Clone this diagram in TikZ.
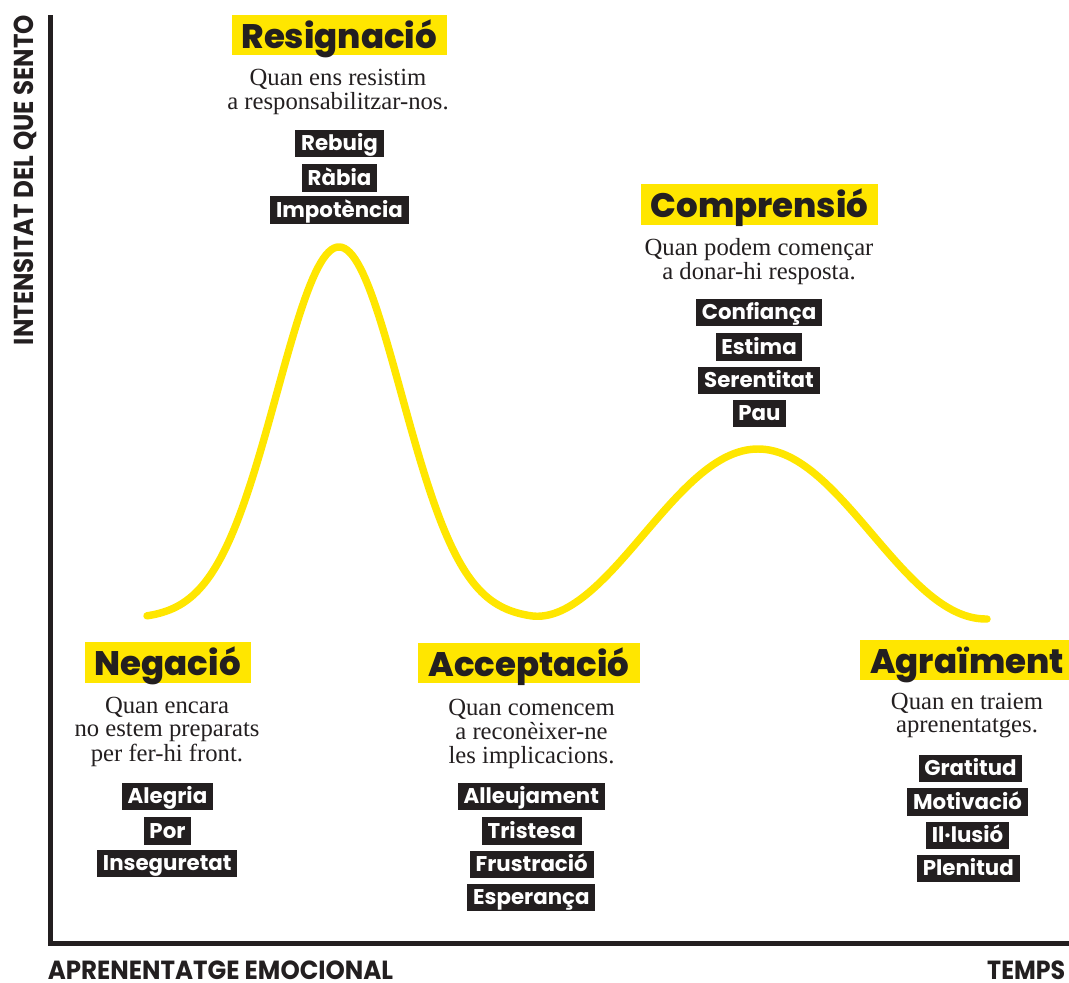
\documentclass[tikz,border=0pt]{standalone}
\usepackage{fontspec}
\usepackage{graphicx}
\setmainfont{Liberation Serif}
\newfontfamily\headfont{Poppins ExtraBold}
\newfontfamily\tagfont{Poppins Bold}
\newfontfamily\axisfont{Poppins Bold}
\definecolor{yel}{HTML}{FFE600}
\definecolor{ink}{HTML}{231F20}
\newcommand{\desclines}[1]{\begin{tabular}[t]{@{}c@{}}#1\end{tabular}}
\begin{document}
\begin{tikzpicture}[x=0.75pt,y=-0.75pt,
  head/.style={fill=yel, text=ink, font=\headfont\fontsize{25.5}{28}\selectfont,
    inner xsep=7.5pt, inner ysep=0pt, text height=25pt, text depth=5.5pt},
  tag/.style={fill=ink, text=white, font=\tagfont\fontsize{16}{18}\selectfont,
    inner xsep=4.3pt, inner ysep=0pt, text height=15.8pt, text depth=4.8pt},
  desc/.style={text=ink, font=\fontsize{18.5}{17.5}\selectfont, anchor=base, inner sep=0pt},
  axislabel/.style={text=ink, inner sep=0pt},
  axisline/.style={draw=ink, line width=3.75pt, line join=miter},
  curve/.style={draw=yel, line width=5.6pt, line cap=round, line join=round}
]
\useasboundingbox (0,0) rectangle (1069,982);

% axes
\coordinate (ytop) at (50,15);
\coordinate (origin) at (50,943.5);
\coordinate (xend) at (1069,943.5);
\draw[axisline] (ytop) -- (origin) -- (xend);

% curve
\draw[curve] plot[domain=147:987, samples=320]
  (\x,{619 - 372*exp(max(-30,-((\x-339)/88)*((\x-339)/88))) - 170*(\x>530)*(1+cos((\x-758)/228*180))/2});

% axis labels
\node[axislabel, rotate=90, anchor=base] (ylab) at (33,180)
  {\resizebox{247.5pt}{14.6pt}{\axisfont INTENSITAT DEL QUE SENTO}};
\node[axislabel, anchor=base west] (xlab) at (47.5,979)
  {\resizebox{259pt}{14pt}{\axisfont APRENENTATGE EMOCIONAL}};
\node[axislabel, anchor=base east] (tlab) at (1065.5,979)
  {\resizebox{58.5pt}{14pt}{\axisfont TEMPS}};

% Resignacio
\node[head] (h2) at (339.3,35) {Resignació};
\node[desc] (d2) at (338,85) {\desclines{Quan ens resistim\\a responsabilitzar-nos.}};
\node[tag] (t21) at (339.5,143.3) {Rebuig};
\node[tag] (t22) at (339.5,177.8) {Ràbia};
\node[tag] (t23) at (339.5,210) {Impotència};

% Comprensio
\node[head] (h4) at (759.5,204.5) {Comprensió};
\node[desc] (d4) at (759,255) {\desclines{Quan podem començar\\a donar-hi resposta.}};
\node[tag] (t41) at (759,312.5) {Confiança};
\node[tag] (t42) at (759,347) {Estima};
\node[tag] (t43) at (759,380.3) {Serentitat};
\node[tag] (t44) at (759.5,413.3) {Pau};

% Negacio
\node[head] (h1) at (167.7,662.2) {Negació};
\node[desc] (d1) at (167,713.3) {\desclines{Quan encara\\no estem preparats\\per fer-hi front.}};
\node[tag] (t11) at (167.5,796.5) {Alegria};
\node[tag] (t12) at (167.5,830.8) {Por};
\node[tag] (t13) at (167.3,863.3) {Inseguretat};

% Acceptacio
\node[head] (h3) at (529,663) {Acceptació};
\node[desc] (d3) at (531.5,715) {\desclines{Quan comencem\\a reconèixer-ne\\les implicacions.}};
\node[tag] (t31) at (531.3,796.5) {Alleujament};
\node[tag] (t32) at (531.8,830.8) {Tristesa};
\node[tag] (t33) at (531.7,864.3) {Frustració};
\node[tag] (t34) at (531.3,897.3) {Esperança};

% Agraiment
\node[head] (h5) at (967,660) {Agraïment};
\node[desc] (d5) at (967,709.3) {\desclines{Quan en traiem\\aprenentatges.}};
\node[tag] (t51) at (970.5,768.3) {Gratitud};
\node[tag] (t52) at (967.5,802.2) {Motivació};
\node[tag] (t53) at (967.5,835.3) {Il·lusió};
\node[tag] (t54) at (968.3,868.3) {Plenitud};
\end{tikzpicture}
\end{document}
